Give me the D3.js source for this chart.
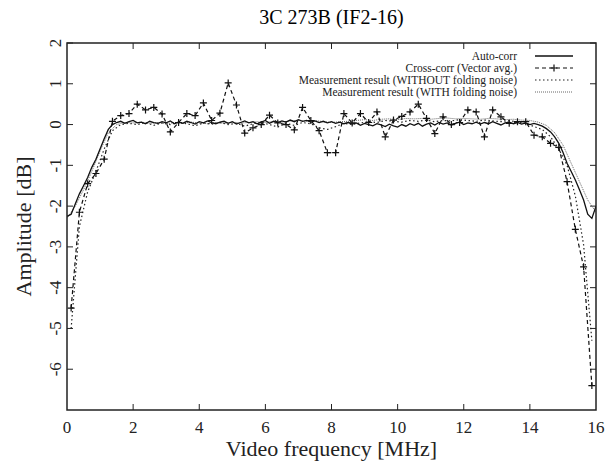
<!DOCTYPE html>
<html><head><meta charset="utf-8">
<script src="https://cdn.jsdelivr.net/npm/d3@7"></script>
<style>
body{margin:0;background:#fff;}
svg{display:block;font-family:"Liberation Serif","DejaVu Serif",serif;}
</style></head>
<body><svg id="chart" width="608" height="467"></svg>
<script>
const title = "3C 273B (IF2-16)";
const xTicks = [0,2,4,6,8,10,12,14,16];
const yTicks = [-6,-5,-4,-3,-2,-1,0,1,2];
const seriesNames = ["Auto-corr","Cross-corr (Vector avg.)","Measurement result (WITHOUT folding noise)","Measurement result (WITH folding noise)"];

// Auto-corr: 0 .. 16 MHz every 0.125 MHz
const autoCorr = [
 -2.25,-2.2,-1.95,-1.7,-1.5,-1.3,-1.05,-0.85,-0.6,-0.35,-0.12,0.0,
 0.05,0.08,0.03,0.07,0.10,0.04,0.06,0.02,
 0.08,0.05,0.03,0.07,0.04,0.09,0.02,0.06,
 0.03,0.08,0.05,0.01,0.07,0.04,0.09,0.05,
 0.02,0.06,0.08,0.03,0.07,0.01,0.05,0.09,
 0.04,0.07,0.02,0.06,0.10,0.03,0.08,0.05,
 0.09,0.06,0.11,0.07,0.12,0.08,0.10,0.06,
 0.09,0.05,0.08,0.04,0.07,0.03,0.06,0.02,
 0.05,0.01,0.04,-0.02,0.03,0.00,-0.03,0.02,
 -0.01,-0.05,0.01,-0.03,-0.06,0.00,-0.04,0.02,
 -0.02,0.03,-0.04,0.01,0.04,-0.01,0.05,0.01,
 0.04,-0.01,0.03,0.06,0.00,0.04,0.02,0.06,
 0.01,0.05,0.02,0.07,0.03,-0.01,0.04,0.06,
 0.02,0.05,0.01,0.04,0.00,0.03,
 0.0,-0.04,-0.1,-0.18,-0.3,-0.46,-0.68,-0.95,-1.15,-1.36,-1.6,-1.85,-2.2,-2.3,-2.0
];
// Cross-corr: channel centres 0.125 .. 15.875 MHz every 0.25 MHz
const crossCorr = [
 -4.5,-2.15,-1.45,-1.2,-0.85,0.08,0.22,0.27,
 0.5,0.36,0.42,0.26,-0.18,0.05,0.27,0.22,
 0.53,0.1,0.28,1.02,0.48,-0.21,-0.08,0.0,
 0.23,0.04,0.0,-0.13,0.42,0.1,-0.15,-0.69,
 -0.69,0.27,0.04,0.27,0.05,0.31,-0.3,0.11,
 0.2,0.31,0.5,0.15,-0.22,0.19,0.0,0.05,
 0.36,0.31,-0.3,0.36,0.19,0.03,0.07,0.07,
 -0.26,-0.3,-0.46,-0.56,-1.4,-2.57,-3.49,-6.4
];
// WITHOUT folding noise: channel centres 0.125 .. 15.875 MHz
const withoutFolding = [
 -5.0,-2.5,-1.65,-1.15,-0.6,-0.15,0.0,0.03,
 0.0,0.05,-0.02,0.04,0.0,0.06,0.02,-0.03,
 0.04,0.01,0.05,0.0,0.03,-0.04,0.02,0.05,
 0.0,-0.06,0.03,-0.02,0.05,0.02,-0.08,-0.12,
 -0.05,0.03,0.0,0.04,0.07,0.05,0.1,0.08,
 0.06,0.1,0.08,0.11,0.07,0.1,0.09,0.12,
 0.1,0.08,0.11,0.09,0.07,0.1,0.06,0.03,
 -0.05,-0.12,-0.3,-0.6,-1.0,-1.75,-2.95,-5.3
];
// WITH folding noise: 0 .. 16 MHz every 0.25 MHz
const withFolding = [
 -2.3,-2.0,-1.6,-1.15,-0.65,-0.2,0.0,0.05,
 0.04,0.06,0.03,0.05,0.02,0.05,0.03,0.06,
 0.04,0.02,0.05,0.03,0.06,0.04,0.05,0.07,
 0.05,0.08,0.06,0.09,0.1,0.08,0.1,0.07,
 0.05,0.07,0.08,0.1,0.12,0.1,0.13,0.14,
 0.12,0.15,0.14,0.15,0.13,0.15,0.16,0.14,
 0.15,0.14,0.13,0.15,0.14,0.12,0.13,0.11,
 0.1,0.06,-0.02,-0.2,-0.5,-0.95,-1.4,-1.85,
 -2.15
];
const autoFreq = autoCorr.map((d,i)=>i*0.125);
const chanFreq = crossCorr.map((d,i)=>0.125+i*0.25);
const withFreq = withFolding.map((d,i)=>i*0.25);

const svg = d3.select("#chart");
const L=67,R=596,T=43,B=410;
const x = d3.scaleLinear().domain([0,16]).range([L,R]);
const y = d3.scaleLinear().domain([-7,2]).range([B,T]);

// title
svg.append("text").attr("x",(L+R)/2).attr("y",24).attr("text-anchor","middle")
  .attr("font-size",20).text(title);

// ticks (inward, all four sides)
const tl=6;
const g = svg.append("g").attr("stroke","#222").attr("stroke-width",1);
xTicks.slice(1,-1).forEach(t=>{
  g.append("line").attr("x1",x(t)).attr("x2",x(t)).attr("y1",B).attr("y2",B-tl);
  g.append("line").attr("x1",x(t)).attr("x2",x(t)).attr("y1",T).attr("y2",T+tl);
});
yTicks.forEach(t=>{
  g.append("line").attr("x1",L).attr("x2",L+tl).attr("y1",y(t)).attr("y2",y(t));
  g.append("line").attr("x1",R).attr("x2",R-tl).attr("y1",y(t)).attr("y2",y(t));
});
xTicks.forEach(t=>{
  svg.append("text").attr("x",x(t)).attr("y",433).attr("text-anchor","middle")
    .attr("font-size",17).attr("fill","#222").text(t);
});
yTicks.forEach(t=>{
  svg.append("text").attr("transform",`translate(61,${y(t)}) rotate(-90)`)
    .attr("text-anchor","middle").attr("font-size",17).attr("fill","#222").text(t);
});
svg.append("text").attr("x",(L+R)/2).attr("y",456).attr("text-anchor","middle")
  .attr("font-size",22).attr("fill","#222").text("Video frequency [MHz]");
svg.append("text").attr("transform",`translate(31,${(T+B)/2}) rotate(-90)`)
  .attr("text-anchor","middle").attr("font-size",22).attr("fill","#222").text("Amplitude [dB]");

// series
const clip = svg.append("clipPath").attr("id","clip").append("rect")
  .attr("x",L).attr("y",T).attr("width",R-L).attr("height",B-T);
const plot = svg.append("g").attr("clip-path","url(#clip)");
const line = d3.line().x(d=>x(d[0])).y(d=>y(d[1]));
const zip = (f,v)=>f.map((d,i)=>[d,v[i]]);

const styles = [
  {stroke:"#111", width:1.3, dash:null},
  {stroke:"#111", width:1.2, dash:"4,3"},
  {stroke:"#222", width:1.2, dash:"1.5,2.5"},
  {stroke:"#555", width:0.9, dash:"1,1"}
];
plot.append("path").datum(zip(withFreq,withFolding)).attr("d",line).attr("fill","none")
  .attr("stroke",styles[3].stroke).attr("stroke-width",styles[3].width).attr("stroke-dasharray",styles[3].dash);
plot.append("path").datum(zip(chanFreq,withoutFolding)).attr("d",line).attr("fill","none")
  .attr("stroke",styles[2].stroke).attr("stroke-width",styles[2].width).attr("stroke-dasharray",styles[2].dash);
plot.append("path").datum(zip(chanFreq,crossCorr)).attr("d",line).attr("fill","none")
  .attr("stroke",styles[1].stroke).attr("stroke-width",styles[1].width).attr("stroke-dasharray",styles[1].dash);
plot.append("path").datum(zip(autoFreq,autoCorr)).attr("d",line).attr("fill","none")
  .attr("stroke",styles[0].stroke).attr("stroke-width",styles[0].width);

const plus = (cx,cy,s)=>`M${cx-s},${cy}H${cx+s}M${cx},${cy-s}V${cy+s}`;
plot.append("g").selectAll("path").data(zip(chanFreq,crossCorr)).join("path")
  .attr("d",d=>plus(x(d[0]),y(d[1]),3.5)).attr("stroke","#111").attr("stroke-width",1.2);

// frame
svg.append("rect").attr("x",L).attr("y",T).attr("width",R-L).attr("height",B-T)
  .attr("fill","none").attr("stroke","#222").attr("stroke-width",1.5);

// legend
const legY=[56,68,80,92];
seriesNames.forEach((n,i)=>{
  svg.append("text").attr("x",517).attr("y",legY[i]+4).attr("text-anchor","end")
    .attr("font-size",11.5).attr("fill","#222").text(n);
  const ln = svg.append("line").attr("x1",535).attr("x2",573).attr("y1",legY[i]).attr("y2",legY[i])
    .attr("stroke",styles[i].stroke).attr("stroke-width",styles[i].width);
  if(styles[i].dash) ln.attr("stroke-dasharray",styles[i].dash);
  if(i===1) svg.append("path").attr("d",plus(554,legY[i],3.5)).attr("stroke","#111").attr("stroke-width",1.2);
});
</script></body></html>
